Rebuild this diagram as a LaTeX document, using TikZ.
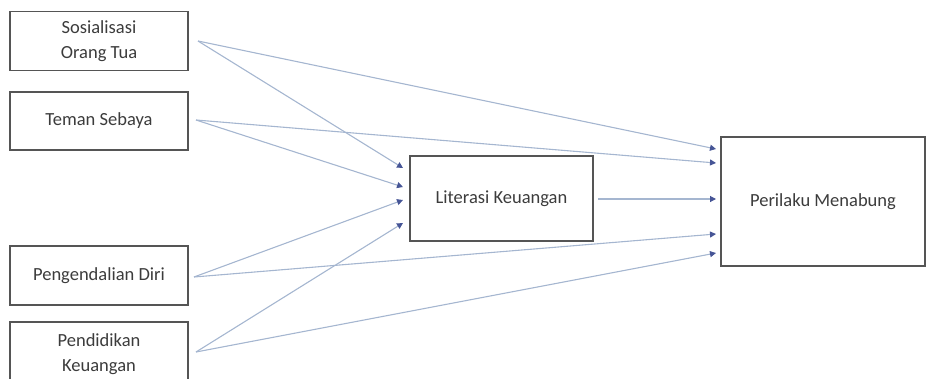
\documentclass[tikz,border=0pt]{standalone}
\usepackage{fontspec}
\setmainfont{Carlito}
\usetikzlibrary{arrows.meta}
\definecolor{linec}{RGB}{165,182,208}
\definecolor{tipc}{RGB}{70,85,150}
\definecolor{boxc}{RGB}{85,85,85}
\definecolor{txtc}{RGB}{60,60,60}
\begin{document}
\begin{tikzpicture}[x=1pt,y=-1pt,
  varbox/.style={draw=boxc,line width=1.8pt,fill=white,inner sep=0pt,font=\fontsize{18.5}{25.5}\selectfont,text=txtc,align=center},
  conn/.style={draw=linec,line width=1.1pt,-{Triangle[length=6pt,width=6pt,fill=tipc,color=tipc]}}]
\useasboundingbox (0,0) rectangle (927,378);
\node[varbox,minimum width=178pt,minimum height=59pt] (so) at (99,41) {Sosialisasi\\Orang Tua};
\node[varbox,minimum width=178pt,minimum height=58pt] (te) at (99,121) {Teman Sebaya};
\node[varbox,minimum width=178pt,minimum height=59pt] (pe) at (99,275.5) {Pengendalian Diri};
\node[varbox,minimum width=178pt,minimum height=70pt] (pd) at (99,357) {};
\node[text=txtc,font=\fontsize{18.5}{25.5}\selectfont,align=center] (pdt) at (99,354) {Pendidikan\\Keuangan};
\node[varbox,minimum width=183pt,minimum height=85pt] (li) at (501.5,198.5) {Literasi Keuangan};
\node[varbox,minimum width=204pt,minimum height=129pt] (pm) at (823,201.5) {Perilaku Menabung};
\coordinate (so0) at (198,41);
\coordinate (te0) at (196,120);
\coordinate (pe0) at (194,277);
\coordinate (pd0) at (196,352);
\coordinate (li0) at (598,199);
\coordinate (l1) at (403,168);
\coordinate (l2) at (403,187);
\coordinate (l3) at (403,200);
\coordinate (l4) at (403,223);
\coordinate (p1) at (716,149);
\coordinate (p2) at (716,163);
\coordinate (p3) at (716,199);
\coordinate (p4) at (716,234);
\coordinate (p5) at (716,253);
\draw[conn] (so0) -- (l1);
\draw[conn] (so0) -- (p1);
\draw[conn] (te0) -- (l2);
\draw[conn] (te0) -- (p2);
\draw[conn] (pe0) -- (l3);
\draw[conn] (pe0) -- (p4);
\draw[conn] (pd0) -- (l4);
\draw[conn] (pd0) -- (p5);
\draw[conn] (li0) -- (p3);
\end{tikzpicture}
\end{document}
